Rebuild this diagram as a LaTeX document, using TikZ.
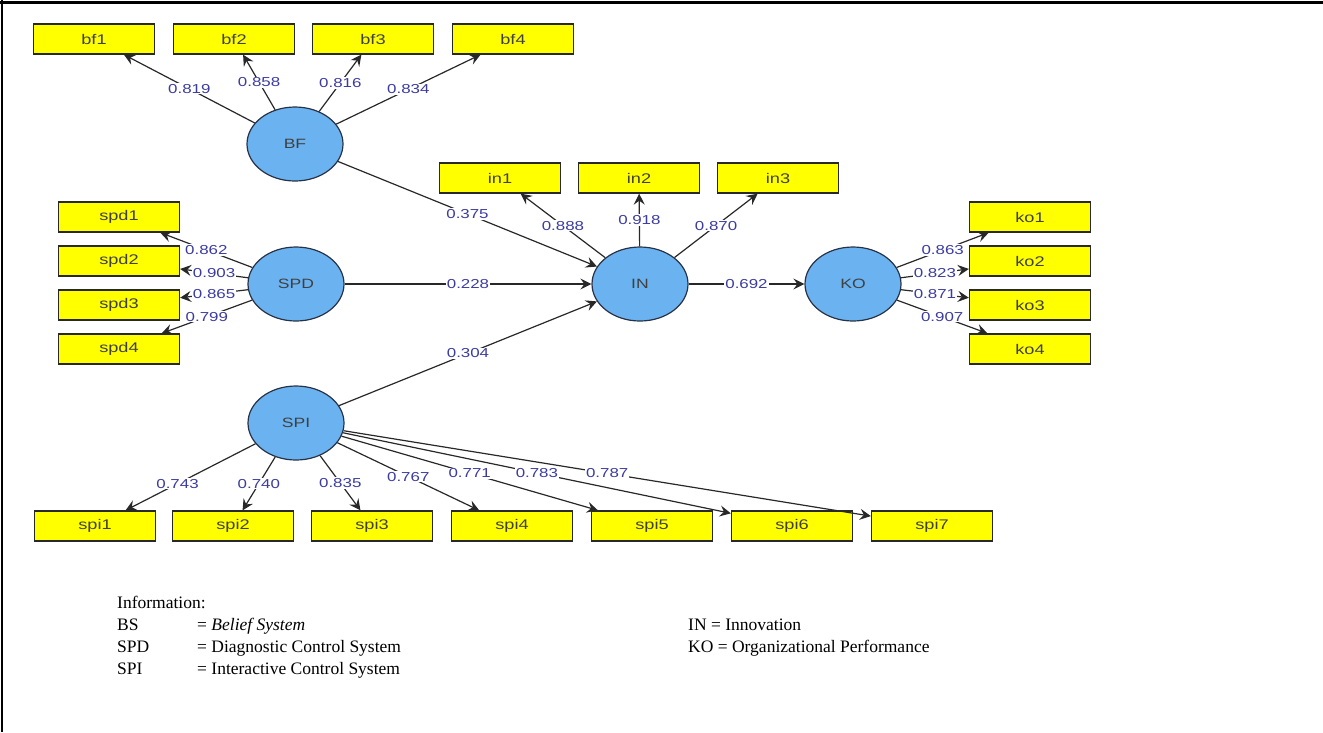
\documentclass[tikz,border=0pt]{standalone}
\usepackage{fontspec}
\setmainfont{Liberation Serif}
\newfontfamily\plsfont[FakeStretch=1.3]{Liberation Sans}
\usetikzlibrary{arrows.meta,shapes.geometric}
\definecolor{boxyellow}{RGB}{255,255,0}
\definecolor{lvblue}{RGB}{106,178,240}
\definecolor{lblblue}{RGB}{60,60,160}
\definecolor{edgegray}{RGB}{40,40,40}
\definecolor{lvedge}{RGB}{40,50,70}
\begin{document}
\begin{tikzpicture}[x=1pt,y=-1pt,
  ind/.style={draw=edgegray, line width=1.3pt, fill=boxyellow, minimum width=121pt, minimum height=30pt, inner sep=0pt, font=\plsfont\fontsize{14}{16}\selectfont, text=black!75},
  lv/.style={ellipse, draw=lvedge, line width=1.2pt, fill=lvblue, minimum width=96pt, minimum height=74pt, inner sep=0pt, font=\plsfont\fontsize{13.5}{16}\selectfont, text=black!75},
  lbl/.style={fill=white, inner sep=1pt, text=lblblue, font=\plsfont\fontsize{13}{15}\selectfont},
  conn/.style={draw=edgegray, line width=1.2pt, -{Stealth[length=11pt,width=11pt,inset=4pt]}},
  legend/.style={anchor=base west, inner sep=0pt, font=\fontsize{17.5}{20}\selectfont}
]
\useasboundingbox (0,0) rectangle (1323,732);
\draw[line width=3pt] (0,2) -- (1323,2);
\draw[line width=2.5pt] (2,0) -- (2,732);

% latent variables
\node[lv] (BF)  at (295,144) {BF};
\node[lv] (SPD) at (296,284) {SPD};
\node[lv] (SPI) at (296,423) {SPI};
\node[lv] (IN)  at (640,284) {IN};
\node[lv] (KO)  at (853,284) {KO};

% indicators
\node[ind] (bf1) at (94,39) {bf1};
\node[ind] (bf2) at (234,39) {bf2};
\node[ind] (bf3) at (373,39) {bf3};
\node[ind] (bf4) at (513,39) {bf4};
\node[ind] (in1) at (500,178) {in1};
\node[ind] (in2) at (639,178) {in2};
\node[ind] (in3) at (778,178) {in3};
\node[ind] (spd1) at (119,217) {spd1};
\node[ind] (spd2) at (119,261) {spd2};
\node[ind] (spd3) at (119,305) {spd3};
\node[ind] (spd4) at (119,349) {spd4};
\node[ind] (ko1) at (1030,217) {ko1};
\node[ind] (ko2) at (1030,261) {ko2};
\node[ind] (ko3) at (1030,305) {ko3};
\node[ind] (ko4) at (1030,349) {ko4};
\node[ind] (spi1) at (95,526) {spi1};
\node[ind] (spi2) at (233,526) {spi2};
\node[ind] (spi3) at (372,526) {spi3};
\node[ind] (spi4) at (512,526) {spi4};
\node[ind] (spi5) at (652,526) {spi5};
\node[ind] (spi6) at (792,526) {spi6};
\node[ind] (spi7) at (932,526) {spi7};

% outer loadings
\draw[conn] (BF) -- node[lbl]{0.819} (bf1);
\draw[conn] (BF) -- node[lbl]{0.858} (bf2);
\draw[conn] (BF) -- node[lbl]{0.816} (bf3);
\draw[conn] (BF) -- node[lbl]{0.834} (bf4);
\draw[conn] (IN) -- node[lbl]{0.888} (in1);
\draw[conn] (IN) -- node[lbl]{0.918} (in2);
\draw[conn] (IN) -- node[lbl]{0.870} (in3);
\draw[conn] (SPD) -- node[lbl]{0.862} (spd1);
\draw[conn] (SPD) -- node[lbl]{0.903} (spd2);
\draw[conn] (SPD) -- node[lbl]{0.865} (spd3);
\draw[conn] (SPD) -- node[lbl]{0.799} (spd4);
\draw[conn] (KO) -- node[lbl]{0.863} (ko1);
\draw[conn] (KO) -- node[lbl]{0.823} (ko2);
\draw[conn] (KO) -- node[lbl]{0.871} (ko3);
\draw[conn] (KO) -- node[lbl]{0.907} (ko4);
\draw[conn] (SPI) -- node[lbl,pos=0.6]{0.743} (spi1);
\draw[conn] (SPI) -- node[lbl]{0.740} (spi2);
\draw[conn] (SPI) -- node[lbl]{0.835} (spi3);
\draw[conn] (SPI) -- node[lbl]{0.767} (spi4);
\draw[conn] (SPI) -- node[lbl]{0.771} (spi5);
\draw[conn] (SPI) -- node[lbl]{0.783} (spi6);
\draw[conn] (SPI) -- node[lbl]{0.787} (spi7);

% path coefficients
\draw[conn] (BF) -- node[lbl]{0.375} (IN);
\draw[conn] (SPD) -- node[lbl]{0.228} (IN);
\draw[conn] (SPI) -- node[lbl]{0.304} (IN);
\draw[conn] (IN) -- node[lbl]{0.692} (KO);

% legend
\node[legend] (leginfo) at (117,608) {Information:};
\node[legend] (legbs) at (117,630) {BS};
\node[legend] (legbsd) at (197,630) {= \textit{Belief System}};
\node[legend] (legspd) at (117,652) {SPD};
\node[legend] (legspdd) at (197,652) {= Diagnostic Control System};
\node[legend] (legspi) at (117,674) {SPI};
\node[legend] (legspid) at (197,674) {= Interactive Control System};
\node[legend] (legin) at (688,630) {IN = Innovation};
\node[legend] (legko) at (688,652) {KO = Organizational Performance};
\end{tikzpicture}
\end{document}
